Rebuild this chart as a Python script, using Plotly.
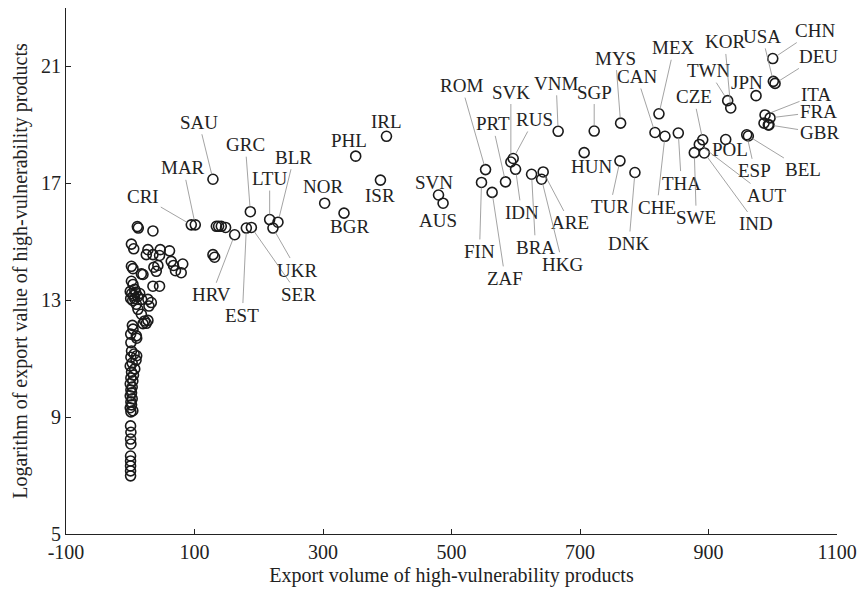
import plotly.graph_objects as go

# ---- Labelled countries ----
countries = ["SAU", "CRI", "MAR", "GRC", "HRV", "EST", "SER", "LTU", "BLR", "UKR",
             "NOR", "BGR", "IRL", "PHL", "ISR", "SVN", "AUS", "ROM", "FIN", "ZAF",
             "PRT", "RUS", "SVK", "IDN", "HUN", "VNM", "SGP", "MYS", "TUR", "DNK",
             "BRA", "ARE", "HKG", "MEX", "CAN", "CHE", "THA", "CZE", "POL", "SWE",
             "AUT", "IND", "ESP", "BEL", "TWN", "KOR", "JPN", "CHN", "USA", "DEU",
             "ITA", "FRA", "GBR"]
export_volume = [128.7, 95.0, 101.2, 186.9, 162.5, 180.7, 188.5, 217.0, 229.9, 222.1,
                 302.6, 332.7, 398.8, 350.9, 389.4, 479.8, 486.9, 553.0, 546.7, 563.2,
                 584.1, 596.0, 592.4, 599.7, 706.5, 666.0, 722.1, 763.2, 762.2, 785.5,
                 624.6, 642.7, 640.2, 822.9, 816.7, 832.2, 853.0, 891.0, 926.8, 877.9,
                 885.7, 893.5, 959.5, 962.0, 929.9, 934.6, 974.0, 1000.0, 1000.9, 1003.6,
                 988.0, 995.8, 994.2]
log_value = [17.14, 15.58, 15.58, 16.03, 15.24, 15.47, 15.49, 15.76, 15.67, 15.47,
             16.32, 15.98, 18.61, 17.93, 17.11, 16.60, 16.32, 17.47, 17.03, 16.69,
             17.05, 17.85, 17.73, 17.48, 18.05, 18.78, 18.79, 19.06, 17.77, 17.37,
             17.31, 17.39, 17.14, 19.38, 18.74, 18.61, 18.72, 18.49, 18.50, 18.05,
             18.33, 18.04, 18.66, 18.62, 19.83, 19.58, 20.00, 21.27, 20.49, 20.42,
             19.34, 19.24, 19.00]

# ---- Unlabelled countries ----
other_volume = [11, 12.5, 35.3, 1.8, 5.4, 27.5, 25.0, 35.3, 46.7, 61.1, 45.6,
                63.8, 67.3, 81.7, 70.4, 79.3, 1.8, 4.3, 17.3, 19.8, 36.8, 43.0, 40.5, 35.3, 45.6,
                1.8, 4.3, 6.9, 0.0, 2.3, 5.4, 8.5, 11.6, 14.7, 0.7, 3.8, 6.9, 17.8,
                27.5, 32.8, 29.1, 9.5, 12.0, 17.3, 22.4, 27.5, 19.8, 3.3, 4.3,
                25.0, 9.5, 0.7, 1.0, 10, 10,
                2, 6, 1, 9, 3, 0, 7, 2, 5, 1, 4, 0, 3, 1, 2, 0, 3, 1, 2, 0, 4, 1,
                0.5, 1, 0.5, 1, 0.5, 0.5, 0.5, 0.5, 0.5,
                134.0, 137.5, 141.7, 148.4, 128.7, 131.3, 986.4, 993.1]
other_log = [15.52, 15.47, 15.37, 14.92, 14.76, 14.73, 14.56, 14.56, 14.73, 14.69, 14.53,
             14.33, 14.19, 14.24, 14.01, 13.94, 14.16, 14.08, 13.90, 13.88, 14.13, 14.19, 13.99, 13.48, 13.48,
             13.65, 13.54, 13.37, 13.30, 13.23, 13.16, 13.27, 13.13, 13.23, 13.06, 12.99, 13.06, 13.03,
             13.03, 12.92, 12.80, 12.86, 12.69, 12.52, 12.29, 12.31, 12.20, 12.14, 12.01,
             12.21, 11.78, 11.84, 11.55, 11.7, 11.1,
             11.26, 11.16, 11.05, 10.95, 10.85, 10.75, 10.65, 10.54, 10.44, 10.34, 10.24, 10.14,
             10.03, 9.93, 9.83, 9.73, 9.63, 9.52, 9.42, 9.32, 9.22, 9.18,
             8.70, 8.48, 8.25, 8.08, 7.67, 7.50, 7.33, 7.16, 6.99,
             15.53, 15.53, 15.53, 15.49, 14.56, 14.47, 19.06, 19.00]

x_ticks = [-100, 100, 300, 500, 700, 900, 1100]
x_tick_labels = ["-100", "100", "300", "500", "700", "900", "1100"]
y_ticks = [5, 9, 13, 17, 21]

# label placement (pixel offset of text from point, leader line or not)
label_layout = {
    "SAU": (-14, -57, True), "MAR": (-12, -57, True), "CRI": (-48, -28, True),
    "GRC": (-5, -67, True), "BLR": (16, -65, True), "LTU": (0, -41, True),
    "HRV": (-23, 60, True), "EST": (-4, 87, True), "SER": (47, 67, True),
    "UKR": (24, 42, True), "NOR": (-2, -17, False), "BGR": (5, 13, False),
    "IRL": (0, -15, False), "PHL": (-7, -16, False), "ISR": (0, 15, False),
    "SVN": (-5, -13, False), "AUS": (-5, 17, False), "ROM": (-24, -84, True),
    "FIN": (-2, 69, True), "ZAF": (13, 86, True), "PRT": (-13, -58, True),
    "SVK": (0, -70, True), "RUS": (21, -39, True), "IDN": (6, 43, True),
    "BRA": (4, 73, True), "HKG": (21, 85, True), "ARE": (27, 51, True),
    "VNM": (-2, -48, True), "SGP": (0, -39, True), "HUN": (7, 14, False),
    "MYS": (-5, -65, True), "TUR": (-10, 46, True), "DNK": (-6, 71, True),
    "CHE": (-8, 71, True), "MEX": (15, -66, True), "CAN": (-18, -56, True),
    "THA": (3, 50, True), "CZE": (-9, -43, True), "TWN": (-19, -30, True),
    "KOR": (-6, -66, True), "USA": (-11, -45, True), "CHN": (42, -28, True),
    "DEU": (43, -27, True), "JPN": (-9, -13, False), "ITA": (51, -20, True),
    "FRA": (48, -6, True), "GBR": (50, 8, True), "POL": (4, 10, False),
    "ESP": (8, 36, True), "BEL": (55, 34, True), "AUT": (67, 51, True),
    "IND": (52, 71, True), "SWE": (2, 65, True),
}

FONT = "Liberation Serif, Times New Roman, serif"
marker = dict(symbol="circle-open", size=10, color="#1a1a1a", line=dict(width=1.6, color="#1a1a1a"))

fig = go.Figure()
fig.add_trace(go.Scatter(x=other_volume, y=other_log, mode="markers", marker=marker,
                         showlegend=False, hoverinfo="skip"))
fig.add_trace(go.Scatter(x=export_volume, y=log_value, mode="markers", marker=marker,
                         text=countries, showlegend=False))

annotations = []
for c, xv, yv in zip(countries, export_volume, log_value):
    ax, ay, line = label_layout[c]
    if line:
        annotations.append(dict(x=xv, y=yv, text=c, showarrow=True, ax=ax, ay=ay,
                                arrowhead=0, arrowwidth=0.8, arrowcolor="#8c8c8c",
                                standoff=5, font=dict(family=FONT, size=19, color="#222")))
    else:
        annotations.append(dict(x=xv, y=yv, text=c, showarrow=False, xshift=ax, yshift=-ay,
                                font=dict(family=FONT, size=19, color="#222")))

fig.update_layout(
    width=863, height=590,
    margin=dict(l=66, r=26, t=8, b=56),
    paper_bgcolor="white", plot_bgcolor="white",
    font=dict(family=FONT, size=20, color="#222"),
    annotations=annotations,
    showlegend=False,
)
fig.update_xaxes(range=[-100, 1100], tickvals=x_ticks, ticktext=x_tick_labels,
                 ticks="inside", ticklen=5,
                 tickcolor="#222", showline=True, linecolor="#222", linewidth=1,
                 showgrid=False, zeroline=False, automargin=False,
                 title=dict(text="Export volume of high-vulnerability products",
                            font=dict(family=FONT, size=20), standoff=5),
                 tickfont=dict(family=FONT, size=20))
fig.update_yaxes(range=[5, 23], tickvals=y_ticks, ticks="inside", ticklen=5,
                 tickcolor="#222", showline=True, linecolor="#222", linewidth=1,
                 showgrid=False, zeroline=False, automargin=False,
                 title=dict(text="Logarithm of export value of high-vulnerability products",
                            font=dict(family=FONT, size=20), standoff=8),
                 tickfont=dict(family=FONT, size=20))

fig.write_html("out.html", config={"displayModeBar": False},
               post_script="document.body.style.margin='0';document.body.style.padding='0';")
